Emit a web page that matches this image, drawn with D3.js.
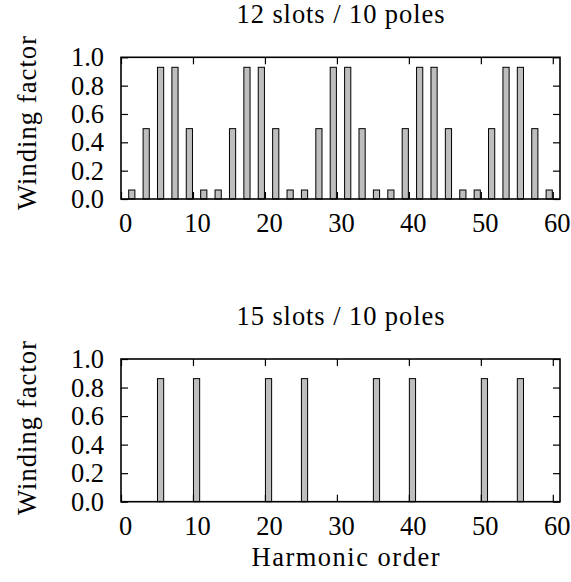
<!DOCTYPE html>
<html>
<head>
<meta charset="utf-8">
<script src="https://cdn.jsdelivr.net/npm/d3@7"></script>
<style>
  body { margin: 0; background: #fff; }
  svg { display: block; }
  text { font-family: "Liberation Serif", "Times New Roman", "DejaVu Serif", serif; fill: #000; }
</style>
</head>
<body>
<svg id="chart" width="571" height="582"></svg>
<script>
// Winding factors per harmonic order for two slot/pole combinations
const harmonics12 = [1, 3, 5, 7, 9, 11, 13, 15, 17, 19, 21, 23, 25, 27, 29,
                     31, 33, 35, 37, 39, 41, 43, 45, 47, 49, 51, 53, 55, 57, 59];
const kw12 = [0.067, 0.5, 0.933, 0.933, 0.5, 0.067, 0.067, 0.5, 0.933, 0.933,
              0.5, 0.067, 0.067, 0.5, 0.933, 0.933, 0.5, 0.067, 0.067, 0.5,
              0.933, 0.933, 0.5, 0.067, 0.067, 0.5, 0.933, 0.933, 0.5, 0.067];
const harmonics15 = [5, 10, 20, 25, 35, 40, 50, 55];
const kw15 = [0.866, 0.866, 0.866, 0.866, 0.866, 0.866, 0.866, 0.866];

const titles = ["12 slots / 10 poles", "15 slots / 10 poles"];
const xTicks = [0, 10, 20, 30, 40, 50, 60];
const yTicks = [0, 0.2, 0.4, 0.6, 0.8, 1.0];
const yLabel = "Winding factor";
const xLabel = "Harmonic order";

const FONT = 26.5;
const FAMILY = '"Liberation Serif", "Times New Roman", "DejaVu Serif", serif';
const svg = d3.select("#chart");

const left = 121, right = 560;
const panels = [
  { top: 57.3, bottom: 199, h: harmonics12, v: kw12, title: titles[0], titleY: 23, labelY: 123 },
  { top: 359, bottom: 501.7, h: harmonics15, v: kw15, title: titles[1], titleY: 325, labelY: 428 }
];

const x = d3.scaleLinear().domain([0, 61]).range([left, right]);
const TICK = 7;

panels.forEach(p => {
  const y = d3.scaleLinear().domain([0, 1]).range([p.bottom, p.top]);
  const g = svg.append("g");

  // bars span one harmonic unit starting at their order
  g.selectAll("rect.bar")
    .data(p.h.map((h, i) => ({ h, v: p.v[i] })))
    .join("rect")
    .attr("class", "bar")
    .attr("x", d => x(d.h) + 0.5)
    .attr("y", d => y(d.v) + 0.5)
    .attr("width", d => x(d.h + 1) - x(d.h) - 1)
    .attr("height", d => y(0) - y(d.v) - 0.5)
    .attr("fill", "#bebebe")
    .attr("stroke", "#000")
    .attr("stroke-width", 1);

  // bottom axis with inward ticks
  const xb = g.append("g")
    .attr("transform", `translate(0,${p.bottom})`)
    .call(d3.axisBottom(x).tickValues(xTicks).tickFormat(d3.format("d"))
      .tickSizeInner(-TICK).tickSizeOuter(0).tickPadding(14));
  // top mirror ticks
  const xt = g.append("g")
    .attr("transform", `translate(0,${p.top})`)
    .call(d3.axisTop(x).tickValues(xTicks).tickFormat("")
      .tickSizeInner(-TICK).tickSizeOuter(0));
  // left axis
  const yl = g.append("g")
    .attr("transform", `translate(${left},0)`)
    .call(d3.axisLeft(y).tickValues(yTicks).tickFormat(d3.format(".1f"))
      .tickSizeInner(-TICK).tickSizeOuter(0).tickPadding(17));
  // right mirror ticks
  const yr = g.append("g")
    .attr("transform", `translate(${right},0)`)
    .call(d3.axisRight(y).tickValues(yTicks).tickFormat("")
      .tickSizeInner(-TICK).tickSizeOuter(0));

  [xb, xt, yl, yr].forEach(a => {
    a.select(".domain").remove();
    a.selectAll(".tick line").attr("stroke", "#000").attr("stroke-width", 1.2);
    a.selectAll("text").attr("font-family", FAMILY).attr("font-size", FONT).attr("fill", "#000");
  });
  xb.selectAll("text").attr("dx", 4);

  // frame
  g.append("rect")
    .attr("x", left).attr("y", p.top)
    .attr("width", right - left).attr("height", p.bottom - p.top)
    .attr("fill", "none").attr("stroke", "#000").attr("stroke-width", 1.6);

  g.append("text")
    .attr("x", 340.5).attr("y", p.titleY)
    .attr("text-anchor", "middle").attr("font-size", FONT)
    .attr("textLength", 208).attr("lengthAdjust", "spacing")
    .text(p.title);

  g.append("text")
    .attr("transform", `translate(36,${p.labelY}) rotate(-90)`)
    .attr("text-anchor", "middle").attr("font-size", FONT)
    .attr("textLength", 174).attr("lengthAdjust", "spacing")
    .text(yLabel);
});

svg.append("text")
  .attr("x", 345.5).attr("y", 566)
  .attr("text-anchor", "middle").attr("font-size", FONT)
  .attr("textLength", 188).attr("lengthAdjust", "spacing")
  .text(xLabel);
</script>
</body>
</html>
